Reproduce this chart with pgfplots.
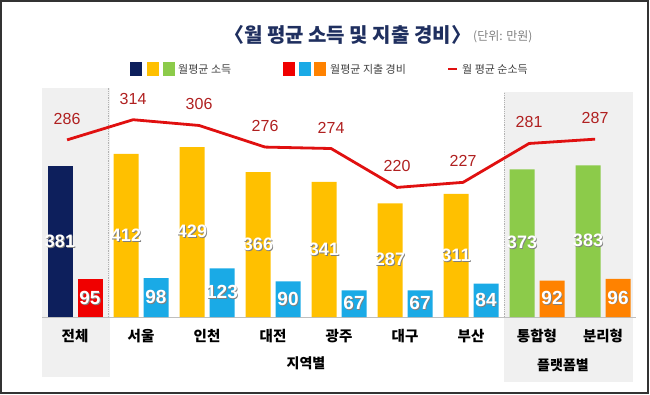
\documentclass[border=0pt]{standalone}
\usepackage{pgfplots}
\pgfplotsset{compat=1.18}
\usepackage{fontspec}
\setmainfont{Noto Sans CJK KR}
\newfontfamily\numf{Liberation Sans}
\definecolor{navy}{HTML}{0D1F5C}
\definecolor{gold}{HTML}{FFC000}
\definecolor{lgreen}{HTML}{8CCB4A}
\definecolor{ered}{HTML}{F00000}
\definecolor{eblue}{HTML}{1AAAE6}
\definecolor{eorange}{HTML}{FF8200}
\definecolor{linered}{HTML}{E01010}
\definecolor{labred}{HTML}{B02020}
\definecolor{titleblue}{HTML}{1F2F5F}
\definecolor{panel}{HTML}{F0F0F0}
\newcommand\sh[1]{\leavevmode\rlap{\kern0.9pt\raisebox{-0.9pt}{\textcolor{black!50}{#1}}}\textcolor{white}{#1}}
\begin{document}
\begin{tikzpicture}[x=1pt,y=1pt]
\path[use as bounding box] (0,0) rectangle (650,394);
\fill[panel] (42,17) rectangle (110,306);
\fill[panel] (504,12) rectangle (633,302);
\draw[black!30, densely dotted, line width=0.8pt] (108,77) -- (108,306);
\draw[black!30, densely dotted, line width=0.8pt] (504,77) -- (504,302);
% title
\node[anchor=west, inner sep=0pt, font=\bfseries\fontsize{20}{20}\selectfont, text=titleblue] at (224,359) {〈월 평균 소득 및 지출 경비〉};
\node[anchor=west, inner sep=0pt, font=\fontsize{12}{12}\selectfont, text=black!50] at (473,357) {(단위: 만원)};
% legend
\fill[navy] (130,318) rectangle (142,332);
\fill[gold] (147,318) rectangle (159,332);
\fill[lgreen] (163,318) rectangle (175,332);
\node[anchor=west, inner sep=0pt, font=\fontsize{11}{11}\selectfont, text=black!75] at (178,325) {월평균 소득};
\fill[ered] (283,318) rectangle (295,332);
\fill[eblue] (299,318) rectangle (311,332);
\fill[eorange] (314,318) rectangle (326,332);
\node[anchor=west, inner sep=0pt, font=\fontsize{11}{11}\selectfont, text=black!75] at (330,325) {월평균 지출 경비};
\draw[linered, line width=2pt] (448,325) -- (457,325);
\node[anchor=west, inner sep=0pt, font=\fontsize{11}{11}\selectfont, text=black!75] at (462,325) {월 평균 순소득};
% group labels
\node[font=\bfseries\fontsize{14}{14}\selectfont] at (306,31) {지역별};
\node[font=\bfseries\fontsize{14}{14}\selectfont] at (563,29) {플랫폼별};

\begin{axis}[
  at={(42pt,77pt)}, anchor=south west,
  x=66pt, y=0.396pt,
  xmin=-0.5, xmax=8.5, ymin=0, ymax=598,
  ybar, bar width=25pt, clip=false,
  axis x line*=bottom, axis y line=none,
  x axis line style={black!25, line width=0.8pt, -},
  xtick={0,...,8},
  xticklabels={전체,서울,인천,대전,광주,대구,부산,통합형,분리형},
  major tick length=0pt,
  xticklabel style={font=\bfseries\fontsize{14.5}{14.5}\selectfont, yshift=-9pt},
  /pgf/number format/assume math mode=true,
  visualization depends on=rawy \as \rawy,
  nodes near coords,
]
\addplot[fill=navy, draw=none, bar shift=-15pt,
  nodes near coords={\sh{\pgfmathprintnumber{\pgfplotspointmeta}}},
  every node near coord/.append style={anchor=center, yshift=-0.198*\rawy*1pt, font=\numf\bfseries\fontsize{18}{18}\selectfont}]
  coordinates {(0,381)};
\addplot[fill=gold, draw=none, bar shift=-15pt,
  nodes near coords={\sh{\pgfmathprintnumber{\pgfplotspointmeta}}},
  every node near coord/.append style={anchor=center, yshift=-0.198*\rawy*1pt, font=\numf\bfseries\fontsize{18}{18}\selectfont}]
  coordinates {(1,412) (2,429) (3,366) (4,341) (5,287) (6,311)};
\addplot[fill=lgreen, draw=none, bar shift=-15pt,
  nodes near coords={\sh{\pgfmathprintnumber{\pgfplotspointmeta}}},
  every node near coord/.append style={anchor=center, yshift=-0.198*\rawy*1pt, font=\numf\bfseries\fontsize{18}{18}\selectfont}]
  coordinates {(7,373) (8,383)};
\addplot[fill=ered, draw=none, bar shift=15pt,
  nodes near coords={\sh{\pgfmathprintnumber{\pgfplotspointmeta}}},
  every node near coord/.append style={anchor=center, yshift=-0.198*\rawy*1pt, font=\numf\bfseries\fontsize{19}{19}\selectfont}]
  coordinates {(0,95)};
\addplot[fill=eblue, draw=none, bar shift=15pt,
  nodes near coords={\sh{\pgfmathprintnumber{\pgfplotspointmeta}}},
  every node near coord/.append style={anchor=center, yshift=-0.198*\rawy*1pt, font=\numf\bfseries\fontsize{19}{19}\selectfont}]
  coordinates {(1,98) (2,123) (3,90) (4,67) (5,67) (6,84)};
\addplot[fill=eorange, draw=none, bar shift=15pt,
  nodes near coords={\sh{\pgfmathprintnumber{\pgfplotspointmeta}}},
  every node near coord/.append style={anchor=center, yshift=-0.198*\rawy*1pt, font=\numf\bfseries\fontsize{19}{19}\selectfont}]
  coordinates {(7,92) (8,96)};
\end{axis}

\begin{axis}[
  at={(42pt,77pt)}, anchor=south west,
  x=66pt, y=0.72pt,
  xmin=-0.5, xmax=8.5, ymin=40, ymax=369,
  hide axis, clip=false,
  /pgf/number format/assume math mode=true,
]
\addplot[linered, line width=2.8pt, mark=none,
  nodes near coords,
  every node near coord/.append style={anchor=center, yshift=21pt, text=labred, font=\numf\fontsize{16}{16}\selectfont}]
  coordinates {(-0.12,286) (0.88,314) (1.88,306) (2.88,276) (3.88,274) (4.88,220) (5.88,227) (6.88,281) (7.88,287)};
\end{axis}
\draw[line width=2pt, black!80] (1,1) rectangle (648,393);
\end{tikzpicture}
\end{document}
